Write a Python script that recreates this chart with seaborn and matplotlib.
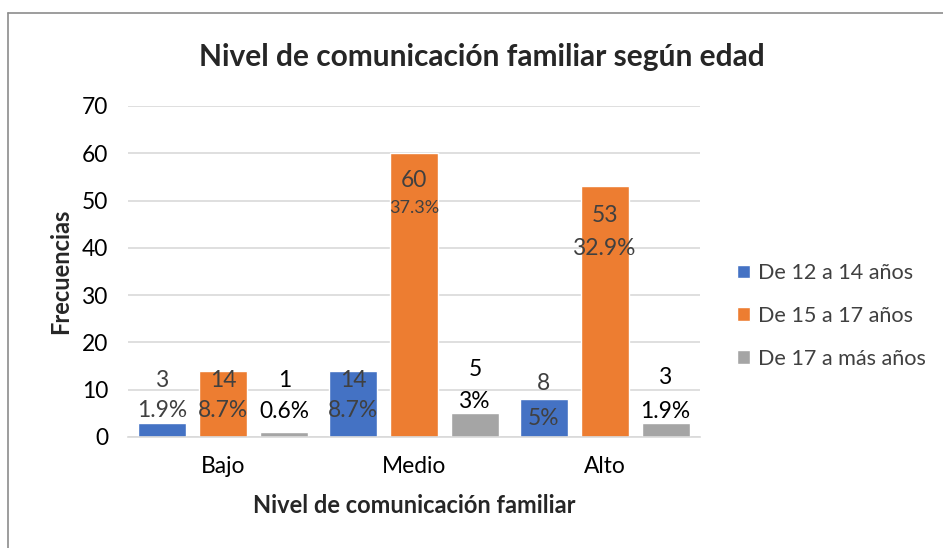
import numpy as np
import pandas as pd
import matplotlib.pyplot as plt
import seaborn as sns
from matplotlib.lines import Line2D

# data
niveles = ["Bajo", "Medio", "Alto"]
grupos = ["De 12 a 14 años", "De 15 a 17 años", "De 17 a más años"]
frec_12_14 = [3, 14, 8]
frec_15_17 = [14, 60, 53]
frec_17_mas = [1, 5, 3]
pct_12_14 = ["1.9%", "8.7%", "5%"]
pct_15_17 = ["8.7%", "37.3%", "32.9%"]
pct_17_mas = ["0.6%", "3%", "1.9%"]

# vertical placement of the two-line data labels (value units), as in the original
label_top_y = [[12.0, 12.0, 11.4], [12.0, 54.3, 46.9], [12.0, 14.2, 12.5]]
label_bot_y = [[5.5, 5.5, 4.0], [5.5, 48.4, 39.8], [5.3, 7.6, 5.3]]

colores = ["#4472C4", "#ED7D31", "#A5A5A5"]
label_colors = ["#404040", "#404040", "#000000"]

df = pd.DataFrame({
    "nivel": niveles * 3,
    "grupo": [g for g in grupos for _ in niveles],
    "frec": frec_12_14 + frec_15_17 + frec_17_mas,
})

sns.set_theme(style="white")
plt.rcParams["font.family"] = ["Lato", "DejaVu Sans"]

fig = plt.figure(figsize=(9.43, 5.48), dpi=100)
ax = fig.add_axes([0.1357, 0.2026, 0.6066, 0.604])

sns.barplot(data=df, x="nivel", y="frec", hue="grupo", order=niveles,
            hue_order=grupos, palette=colores, width=0.96, gap=0.21,
            saturation=1, ax=ax, legend=True)

ax.set_ylim(0, 70)
ax.set_xlim(-0.5, 2.5)
ax.set_yticks(range(0, 71, 10))
ax.yaxis.grid(True, color="#D9D9D9", linewidth=1.2)
ax.set_axisbelow(True)
for s in ["top", "right", "left"]:
    ax.spines[s].set_visible(False)
ax.spines["bottom"].set_color("#D9D9D9")
ax.spines["bottom"].set_linewidth(1.2)
ax.tick_params(axis="both", length=0, labelsize=16.4, colors="#000000")
ax.tick_params(axis="y", pad=14)
ax.tick_params(axis="x", pad=14)

ax.set_ylabel("Frecuencias", fontsize=17, fontweight="bold", labelpad=7)
ax.set_xlabel("Nivel de comunicación familiar", fontsize=17, fontweight="bold", labelpad=12)
fig.suptitle("Nivel de comunicación familiar según edad", fontsize=21.5,
             fontweight="bold", x=0.511, y=0.896, va="center")

# data labels
frecs = [frec_12_14, frec_15_17, frec_17_mas]
pcts = [pct_12_14, pct_15_17, pct_17_mas]
offsets = [-0.32, 0.0, 0.32]
for gi in range(3):
    for ci in range(3):
        x = ci + offsets[gi]
        small = frecs[gi][ci] == 60
        ax.text(x, label_top_y[gi][ci], str(frecs[gi][ci]), ha="center", va="center",
                fontsize=16.4, color=label_colors[gi])
        ax.text(x, label_bot_y[gi][ci], pcts[gi][ci], ha="center", va="center",
                fontsize=13 if small else 16.4, color=label_colors[gi])

leg = ax.legend(loc="center left", bbox_to_anchor=(1.03, 0.366), frameon=False,
                fontsize=15.6, handlelength=0.6, handleheight=0.6,
                handletextpad=0.4, labelspacing=1.05, labelcolor="#404040")

# chart frame (only top and left edges visible in the crop)
fig.add_artist(Line2D([8 / 943, 1], [1 - 13 / 548, 1 - 13 / 548], color="#8C8C8C", lw=1.2))
fig.add_artist(Line2D([8 / 943, 8 / 943], [0, 1 - 13 / 548], color="#8C8C8C", lw=1.2))

fig.savefig("out.png", dpi=100)
